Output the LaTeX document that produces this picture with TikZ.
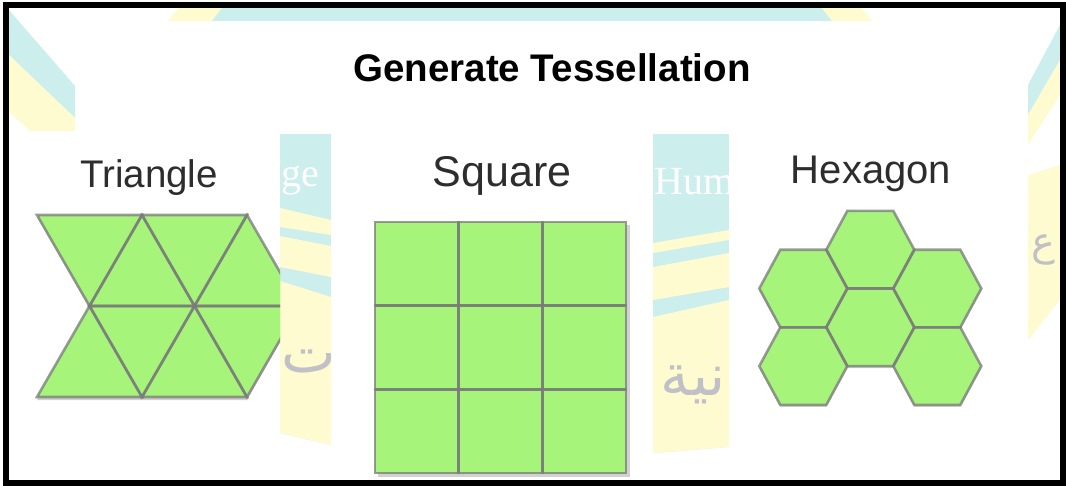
\documentclass[tikz,border=0pt]{standalone}
\usepackage{fontspec}
\setmainfont{Liberation Sans}
\newfontfamily\wmserif{Liberation Serif}
\newfontfamily\arabicfont[Script=Arabic]{DejaVu Sans}
\TeXXeTstate=1
\definecolor{tilegreen}{RGB}{166,245,122}
\definecolor{wmcyan}{RGB}{204,238,236}
\definecolor{wmyellow}{RGB}{255,251,208}
\definecolor{wmgray}{RGB}{192,192,198}
\definecolor{labelgray}{RGB}{45,45,45}
\tikzset{
  tile/.style={fill=tilegreen},
  tileedge/.style={draw=black!52, draw opacity=0.75, line width=2.6pt, line join=miter},
  tileshadow/.style={fill=black!18},
  title/.style={font=\bfseries\fontsize{38.5}{40}\selectfont, text=black, inner sep=0pt, anchor=base},
  shapelabel/.style={text=labelgray, inner sep=0pt, anchor=base},
  wmtext/.style={text=white, inner sep=0pt, font=\wmserif\fontsize{40}{42}\selectfont},
  wmarabic/.style={text=wmgray, inner sep=0pt, font=\arabicfont\fontsize{58}{60}\selectfont},
  frame/.style={draw=black, line width=6pt}
}
\begin{document}
\begin{tikzpicture}[x=1pt,y=-1pt]
\useasboundingbox (0,0) rectangle (1066,485);
\fill[white] (0,0) rectangle (1066,485);

% ---------- watermark windows ----------
% left corner
\begin{scope}
  \clip (9,9) rectangle (75,131);
  \fill[wmcyan] (9,10) -- (75,86) -- (75,118) -- (9,55) -- cycle;
  \fill[wmyellow] (9,55) -- (75,118) -- (75,131) -- (30,131) -- (9,112) -- cycle;
\end{scope}
% top strip
\begin{scope}
  \clip (75,8) rectangle (1028,21);
  \fill[wmyellow] (168,21) -- (178,8) -- (222,8) -- (212,21) -- cycle;
  \fill[wmcyan] (212,21) -- (222,8) -- (822,8) -- (832,21) -- cycle;
  \fill[wmyellow] (832,21) -- (822,8) -- (862,8) -- (872,21) -- cycle;
\end{scope}
% gap 1
\begin{scope}
  \clip (280,134) -- (331,134) -- (331,445) -- (280,433) -- cycle;
  \fill[wmcyan] (280,134) rectangle (331,445);
  \fill[wmyellow] (280,208) -- (331,220) -- (331,235) -- (280,227) -- cycle;
  \fill[wmyellow] (280,236) -- (331,246) -- (331,277) -- (280,267) -- cycle;
  \fill[wmyellow] (280,281) -- (331,297) -- (331,445) -- (280,433) -- cycle;
  \node[wmtext, anchor=base west] (wmge) at (281,186) {ge};
  \node[wmarabic, anchor=base west] (wmteh) at (281,372) {\beginR ت\endR};
\end{scope}
% gap 2
\begin{scope}
  \clip (653,134) -- (729,134) -- (729,447) -- (653,453) -- cycle;
  \fill[wmcyan] (653,134) rectangle (729,453);
  \fill[wmyellow] (653,243) -- (729,230) -- (729,240) -- (653,253) -- cycle;
  \fill[wmyellow] (653,267) -- (729,253) -- (729,287) -- (653,300) -- cycle;
  \fill[wmyellow] (653,317) -- (729,300) -- (729,453) -- (653,453) -- cycle;
  \node[wmtext, anchor=base west] (wmhuman) at (654,194) {Hum};
  \node[wmarabic, anchor=base east] (wmarab) at (742,395) {\beginR انية\endR};
\end{scope}
% right strip
\begin{scope}
  \clip (1028,9) rectangle (1060,479);
  \fill[wmcyan] (1060,25) -- (1060,60) -- (1028,115) -- (1028,85) -- cycle;
  \fill[wmyellow] (1060,60) -- (1060,95) -- (1028,145) -- (1028,115) -- cycle;
  \fill[wmyellow] (1060,165) -- (1060,300) -- (1028,340) -- (1028,175) -- cycle;
  \node[wmarabic, font=\arabicfont\fontsize{40}{42}\selectfont, anchor=base west] (wmright) at (1031,255) {\beginR ع\endR};
\end{scope}

% ---------- title ----------
\node[title] (title) at (552,81) {Generate Tessellation};

% ---------- triangle tessellation ----------
\node[shapelabel, font=\fontsize{38.5}{40}\selectfont] (trilabel) at (149,187) {Triangle};
\begin{scope}
  \clip (0,0) rectangle (280,485);
  \fill[tileshadow] (37,217) -- (247,217) -- (299.5,308) -- (247,400) -- (37,400) -- (89.5,308) -- cycle;
  \foreach \a/\b/\c/\d/\e/\f in {
      37/215/142/215/89.5/306, 142/215/89.5/306/194.5/306,
      142/215/247/215/194.5/306, 247/215/194.5/306/299.5/306,
      89.5/306/37/397/142/397, 89.5/306/194.5/306/142/397,
      194.5/306/142/397/247/397, 194.5/306/299.5/306/247/397}
    \fill[tile] (\a,\b) -- (\c,\d) -- (\e,\f) -- cycle;
  \foreach \a/\b/\c/\d/\e/\f in {
      37/215/142/215/89.5/306, 142/215/89.5/306/194.5/306,
      142/215/247/215/194.5/306, 247/215/194.5/306/299.5/306,
      89.5/306/37/397/142/397, 89.5/306/194.5/306/142/397,
      194.5/306/142/397/247/397, 194.5/306/299.5/306/247/397}
    \draw[tileedge] (\a,\b) -- (\c,\d) -- (\e,\f) -- cycle;
\end{scope}

% ---------- square tessellation ----------
\node[shapelabel, font=\fontsize{43}{45}\selectfont] (sqlabel) at (502,186) {Square};
\fill[tileshadow] (378,225) rectangle (630,477);
\foreach \i in {0,1,2}
  \foreach \j in {0,1,2}
    \fill[tile] (375+83.67*\i,222+83.67*\j) rectangle ++(83.67,83.67);
\foreach \i in {0,1,2}
  \foreach \j in {0,1,2}
    \draw[tileedge] (375+83.67*\i,222+83.67*\j) rectangle ++(83.67,83.67);

% ---------- hexagon tessellation ----------
\node[shapelabel, font=\fontsize{40}{42}\selectfont] (hexlabel) at (871,183) {Hexagon};
\foreach \cx/\cy in {870.3/249.7, 803.3/288.5, 937.3/288.5, 870.3/327.3, 803.3/366.1, 937.3/366.1}
  \fill[tileshadow] (\cx-44,\cy+2) -- (\cx-23,\cy-36.8) -- (\cx+23,\cy-36.8) -- (\cx+44,\cy+2) -- (\cx+23,\cy+40.8) -- (\cx-23,\cy+40.8) -- cycle;
\foreach \cx/\cy in {870.3/249.7, 803.3/288.5, 937.3/288.5, 870.3/327.3, 803.3/366.1, 937.3/366.1}
  \fill[tile] (\cx-44,\cy) -- (\cx-23,\cy-38.8) -- (\cx+23,\cy-38.8) -- (\cx+44,\cy) -- (\cx+23,\cy+38.8) -- (\cx-23,\cy+38.8) -- cycle;
\foreach \cx/\cy in {870.3/249.7, 803.3/288.5, 937.3/288.5, 870.3/327.3, 803.3/366.1, 937.3/366.1}
  \draw[tileedge] (\cx-44,\cy) -- (\cx-23,\cy-38.8) -- (\cx+23,\cy-38.8) -- (\cx+44,\cy) -- (\cx+23,\cy+38.8) -- (\cx-23,\cy+38.8) -- cycle;

% ---------- frame ----------
\draw[frame] (6,5) rectangle (1063,482.5);
\end{tikzpicture}
\end{document}
